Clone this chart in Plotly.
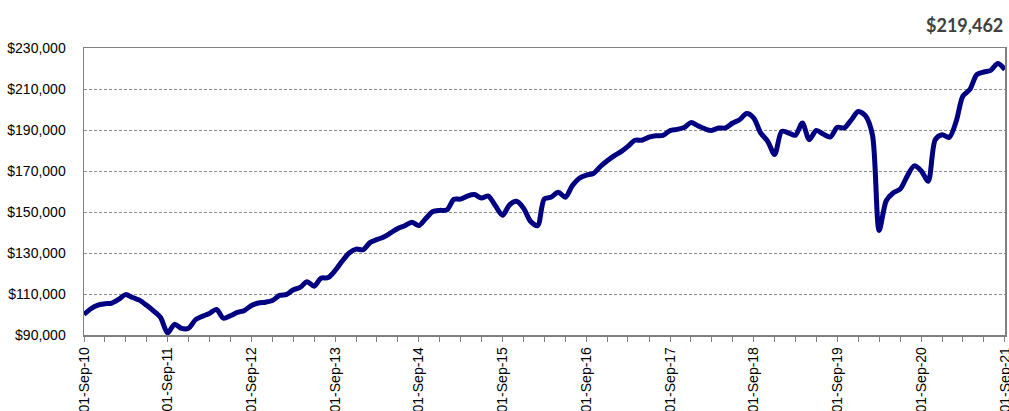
import pandas as pd
import plotly.graph_objects as go

start_month = "2010-09-01"
values = [
    100.0, 102.8, 104.6, 105.2, 105.6, 107.5, 109.7, 108.3, 107.0, 104.5,
    101.8, 98.5, 91.0, 95.2, 93.2, 93.3, 97.5, 99.2, 100.5, 102.5,
    98.2, 99.4, 101.0, 102.0, 104.4, 105.6, 106.0, 106.8, 109.3, 109.8,
    112.0, 113.2, 116.0, 113.8, 117.7, 118.0, 121.5, 126.0, 130.0, 131.9,
    131.6, 135.2, 136.5, 137.8, 139.8, 142.0, 143.3, 145.0, 143.4, 146.8,
    150.2, 150.8, 151.0, 156.2, 156.3, 157.8, 158.5, 156.8, 157.8, 153.0,
    148.4, 153.4, 155.2, 152.0, 145.5, 143.3, 156.3, 157.3, 159.6, 157.2,
    162.8, 166.5, 168.0, 168.8, 172.2, 175.0, 177.5, 179.6, 182.0, 185.0,
    185.0, 186.5, 187.2, 187.4, 189.7, 190.3, 191.2, 193.6, 192.0, 190.5,
    189.8, 191.0, 191.0, 193.4, 195.0, 198.0, 195.8, 188.6, 184.5, 178.0,
    189.3, 188.5, 187.4, 193.4, 185.3, 189.8, 188.0, 186.6, 191.3, 191.0,
    195.0, 199.0, 197.0, 187.5, 141.0, 155.5, 159.3, 161.2, 167.4, 172.5,
    170.0, 165.0, 185.3, 187.7, 186.4, 194.5, 206.5, 209.8, 217.0, 218.3,
    219.1, 222.5, 219.462,
]
values = [v * 1000 for v in values]
dates = pd.date_range(start_month, periods=len(values), freq="MS")

tick_dates = pd.date_range("2010-09-01", "2021-09-01", freq="12MS")
tick_labels = [d.strftime("01-Sep-%y") for d in tick_dates]
y_ticks = list(range(90000, 230001, 20000))
final_label = "$219,462"

fig = go.Figure()
fig.add_trace(go.Scatter(
    x=dates, y=values, mode="lines",
    line=dict(color="#000080", width=5, shape="spline", smoothing=0.8),
    hoverinfo="skip",
))

axis_font = dict(family="Liberation Sans, Arial, sans-serif", size=14, color="#000000")

fig.update_layout(
    width=1009, height=411,
    margin=dict(l=84, r=4, t=48, b=76, autoexpand=False),
    paper_bgcolor="white", plot_bgcolor="white",
    showlegend=False,
    xaxis=dict(
        type="date", automargin=False,
        range=["2010-09-01", "2021-09-01 04:00"],
        tickmode="array", tickvals=tick_dates, ticktext=tick_labels,
        tickangle=-90, tickfont=axis_font, ticklabeloverflow="allow",
        ticks="outside", ticklen=5, tickcolor="#808080", tickwidth=1,
        minor=dict(ticks="outside", ticklen=5, tickcolor="#808080",
                   tickmode="array",
                   tickvals=pd.date_range("2010-09-01", "2021-09-01", freq="3MS")),
        showline=True, linecolor="#808080", linewidth=1.5, mirror=True,
        showgrid=False, zeroline=False,
    ),
    yaxis=dict(
        automargin=False,
        range=[90000, 230000],
        tickmode="array", tickvals=y_ticks,
        tickformat="$,.0f", tickfont=axis_font,
        ticks="", ticklabelstandoff=14,
        showline=True, linecolor="#808080", linewidth=1.5, mirror=True,
        showgrid=True, gridcolor="#8c8c8c", gridwidth=1, griddash="3px,2px",
        zeroline=False,
    ),
    annotations=[dict(
        text="<b>" + final_label + "</b>",
        xref="paper", yref="paper", x=1.0, y=1.0, xanchor="right", yanchor="bottom",
        yshift=10, showarrow=False,
        font=dict(family="Lato, Open Sans, sans-serif", size=18, color="#404040"),
    )],
)

fig.write_html(
    "out.html",
    config={"displayModeBar": False, "staticPlot": True},
    post_script="document.body.style.margin='0';document.body.style.overflow='hidden';",
)
